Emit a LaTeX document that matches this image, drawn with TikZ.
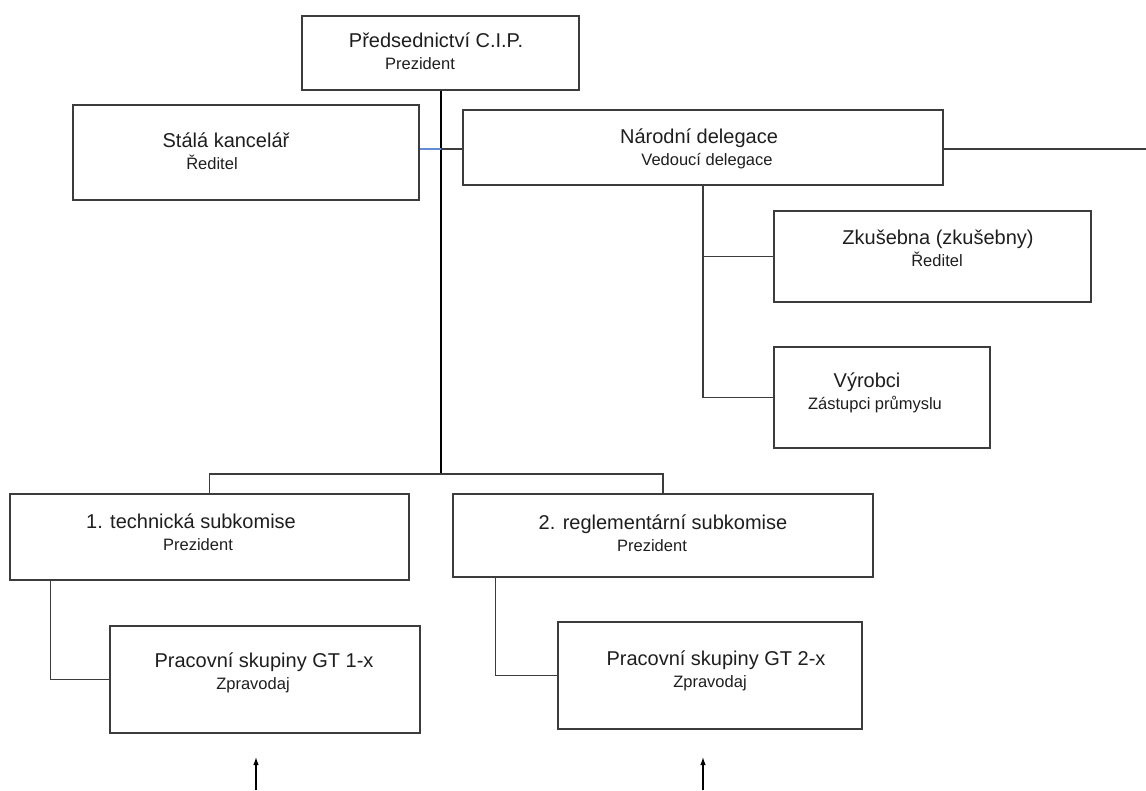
\documentclass[tikz,border=0pt]{standalone}
\usepackage{fontspec}
\setmainfont{Liberation Sans}
\usetikzlibrary{arrows.meta,positioning}
\definecolor{cpline}{RGB}{60,60,60}
\definecolor{cplink}{RGB}{100,140,210}
\definecolor{cptext}{RGB}{30,30,30}
\newcommand{\rowat}[2]{\makebox[0pt]{\hspace*{#1pt}\hspace*{#1pt}#2}}
\newcommand{\subttl}[1]{{\fontsize{16.5}{21}\selectfont #1}}

\begin{document}
\begin{tikzpicture}[
x=1pt,y=-1pt,
unit/.style={draw=cpline,line width=1.5pt,align=center,text=cptext,text height=30pt,text depth=4pt,inner sep=0pt,font=\fontsize{20}{21.5}\selectfont},
conn/.style={draw=cpline,line width=1.5pt},
trunk/.style={draw=black,line width=2.3pt},
up/.style={-{Latex[length=8pt,width=5.5pt]},line width=1.2pt,draw=black}
]
\useasboundingbox (0,0) rectangle (1146,790);
% top level
\node[unit,minimum width=277pt,minimum height=74pt,text height=36pt] (pred) at (440.5,53) {\rowat{-4.5}{Předsednictví C.I.P.}\\\rowat{-20.5}{\subttl{Prezident}}};
\node[unit,minimum width=346pt,minimum height=95pt,text height=37pt] (stala) at (246,152.5) {\rowat{-20}{Stálá kancelář}\\\rowat{-34}{\subttl{Ředitel}}};
\node[unit,minimum width=480pt,minimum height=75pt,text height=39pt] (narodni) at (703,147.5) {\rowat{-4}{Národní delegace}\\\rowat{4}{\subttl{Vedoucí delegace}}};
% delegation members
\node[unit,minimum width=317pt,minimum height=91pt,text height=23pt] (zkus) at (932.5,256.5) {\rowat{5.5}{Zkušebna (zkušebny)}\\\rowat{4.5}{\subttl{Ředitel}}};
\node[unit,minimum width=216pt,minimum height=101pt,text height=27pt] (vyrobci) at (882,397.5) {\rowat{-15}{Výrobci}\\\rowat{-7}{\subttl{Zástupci průmyslu}}};
% subcommissions
\node[unit,minimum width=399pt,minimum height=86pt] (tech) at (209.5,537) {\rowat{-18.5}{1. technická subkomise}\\\rowat{-11.5}{\subttl{Prezident}}};
\node[unit,minimum width=420pt,minimum height=83pt,text height=35pt] (regl) at (663,535.5) {\rowat{0}{2. reglementární subkomise}\\\rowat{-11}{\subttl{Prezident}}};
\node[unit,minimum width=310pt,minimum height=107pt,text height=23pt] (gt1) at (265,679.5) {\rowat{-1}{Pracovní skupiny GT 1-x}\\\rowat{-12}{\subttl{Zpravodaj}}};
\node[unit,minimum width=304pt,minimum height=107pt,text height=27pt] (gt2) at (710,675.5) {\rowat{6}{Pracovní skupiny GT 2-x}\\\rowat{0}{\subttl{Zpravodaj}}};
% free ends
\coordinate (jstala) at (441,149);
\coordinate (bus) at (441,474);
\coordinate (edge) at (1146,149);
\coordinate (in1) at (256,790);
\coordinate (in2) at (703,790);
% connectors
\draw[trunk] (pred.south -| bus) -- (bus);
\draw[cplink,line width=1.5pt] (stala.east |- jstala) -- (jstala);
\draw[conn] (jstala) -- (narodni.west |- jstala);
\draw[conn] (narodni.east |- edge) -- (edge);
\draw[conn] (narodni.south) |- (zkus.west);
\draw[conn] (narodni.south) |- (vyrobci.west);
\draw[conn] (tech.north) |- (bus) -| (regl.north);
\draw[conn] ([xshift=41pt]tech.south west) |- (gt1.west);
\draw[conn] ([xshift=43pt]regl.south west) |- (gt2.west);
\draw[up] (in1) -- ++(0,-33);
\draw[up] (in2) -- ++(0,-33);
\end{tikzpicture}
\end{document}
